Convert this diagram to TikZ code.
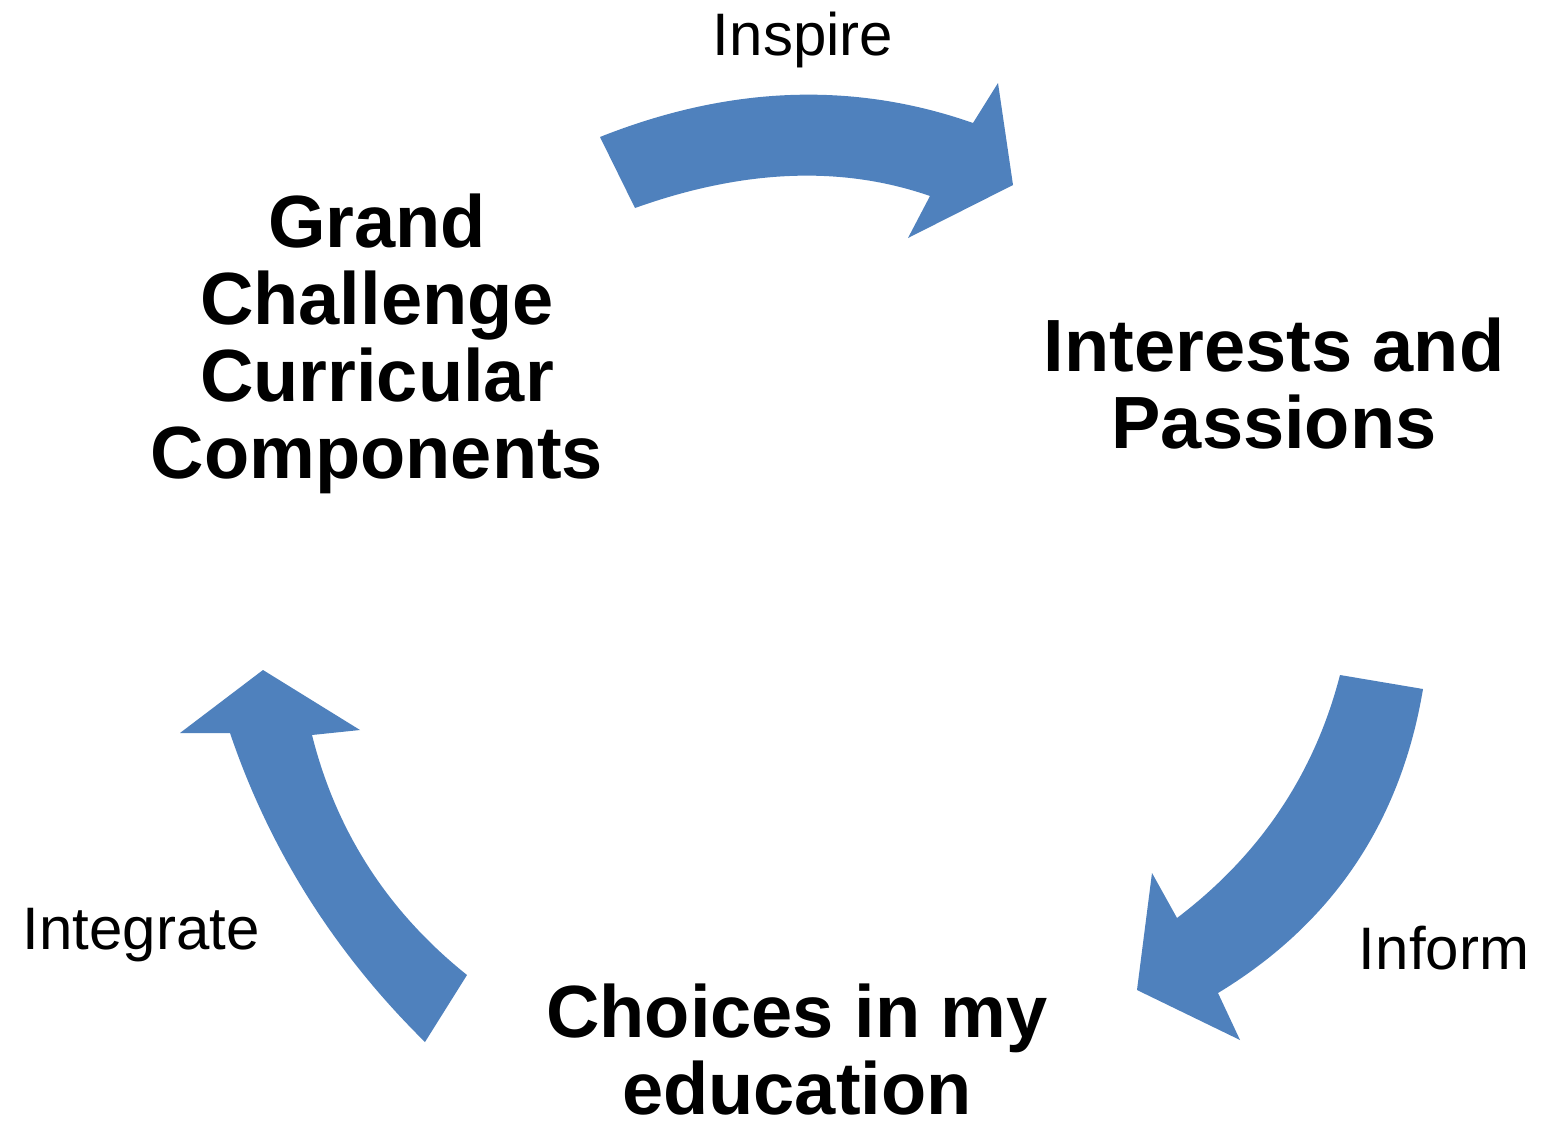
\documentclass[tikz,border=0pt]{standalone}
\usepackage{fontspec}
\setmainfont{Liberation Sans}
\definecolor{arrowblue}{HTML}{4F81BD}
\begin{document}
\begin{tikzpicture}[x=1pt,y=-1pt,
  cyclearrow/.style={fill=arrowblue, draw=none},
  stagetext/.style={font=\fontsize{74}{77}\selectfont\bfseries, align=center, inner sep=0pt, anchor=base},
  verbtext/.style={font=\fontsize{60}{66}\selectfont, inner sep=0pt, anchor=base}]
\useasboundingbox (0,0) rectangle (1543,1122);
\fill[white] (0,0) rectangle (1543,1122);

% top arrow (Inspire)
\fill[cyclearrow] (600,137) .. controls (729,85.7) and (853.3,81) .. (973,123)
  -- (998,83) -- (1013,185) -- (908,238) -- (930,196)
  .. controls (841.7,165.3) and (743.3,169.3) .. (635,208) -- cycle;

% right arrow (Inform)
\fill[cyclearrow] (1423,689) .. controls (1400.7,822.3) and (1332.3,923.7) .. (1218,993)
  -- (1240,1040) -- (1137,990) -- (1152,873) -- (1177,918)
  .. controls (1260,855) and (1314.3,774.3) .. (1340,675) -- cycle;

% left arrow (Integrate)
\fill[cyclearrow] (425,1042) .. controls (334.7,953) and (269.7,850) .. (230,733)
  -- (180,733) -- (263,670) -- (360,730) -- (312,735)
  .. controls (336.3,831.8) and (388,911.8) .. (467,975) -- cycle;

\node[stagetext] (grand) at (377,478) {Grand\\Challenge\\Curricular\\Components};
\node[stagetext] (interests) at (1274,448) {Interests and\\Passions};
\node[stagetext] (choices) at (797,1114) {Choices in my\\education};

\node[verbtext] (inspire) at (803,55) {Inspire};
\node[verbtext] (integrate) at (141,949) {Integrate};
\node[verbtext] (inform) at (1444,969) {Inform};
\end{tikzpicture}
\end{document}
